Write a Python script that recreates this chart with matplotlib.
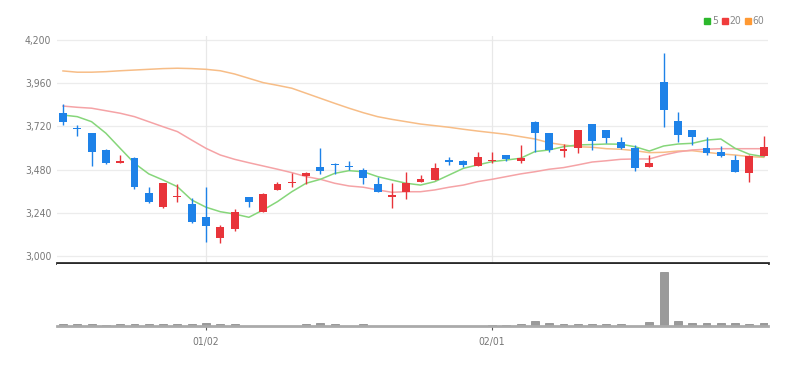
import numpy as np
import matplotlib
matplotlib.use("Agg")
import matplotlib.pyplot as plt
from matplotlib.lines import Line2D

plt.rcParams["font.family"] = ["Liberation Sans Narrow", "DejaVu Sans"]
plt.rcParams["font.stretch"] = "condensed"

# Daily candles (index 0 .. 49)
opens = [3793, 3713, 3682, 3589, 3517, 3543, 3348, 3270, 3326, 3287,
         3218, 3098, 3150, 3326, 3246, 3367, 3404, 3444, 3496, 3513,
         3500, 3478, 3398, 3330, 3354, 3411, 3422, 3533, 3526, 3500,
         3526, 3561, 3528, 3746, 3682, 3585, 3602, 3733, 3700, 3635,
         3598, 3496, 3968, 3750, 3700, 3598, 3576, 3533, 3459, 3556]
highs = [3844, 3728, 3685, 3592, 3561, 3550, 3385, 3404, 3400, 3320,
         3385, 3172, 3259, 3328, 3352, 3413, 3459, 3468, 3598, 3515,
         3530, 3487, 3441, 3404, 3468, 3450, 3519, 3548, 3533, 3580,
         3580, 3563, 3617, 3752, 3685, 3622, 3700, 3735, 3702, 3663,
         3617, 3561, 4130, 3802, 3702, 3659, 3611, 3561, 3561, 3667]
lows = [3728, 3667, 3500, 3511, 3515, 3374, 3295, 3268, 3298, 3181,
        3079, 3074, 3141, 3274, 3244, 3365, 3382, 3400, 3454, 3457,
        3476, 3400, 3355, 3265, 3317, 3409, 3420, 3506, 3497, 3498,
        3519, 3530, 3515, 3580, 3580, 3552, 3570, 3589, 3626, 3596,
        3474, 3494, 3715, 3635, 3617, 3561, 3548, 3466, 3413, 3554]
closes = [3746, 3704, 3579, 3515, 3526, 3385, 3298, 3404, 3332, 3191,
          3168, 3163, 3246, 3298, 3344, 3400, 3413, 3463, 3474, 3504,
          3493, 3432, 3357, 3339, 3404, 3426, 3487, 3522, 3506, 3548,
          3535, 3537, 3543, 3682, 3589, 3593, 3700, 3639, 3654, 3598,
          3487, 3515, 3811, 3672, 3663, 3570, 3557, 3468, 3556, 3607]

# Moving averages
ma5 = [3783, 3774, 3746, 3682, 3598, 3515, 3456, 3422, 3385, 3311,
       3271, 3246, 3233, 3215, 3256, 3302, 3357, 3404, 3426, 3459,
       3474, 3468, 3441, 3422, 3404, 3394, 3413, 3450, 3487, 3506,
       3524, 3533, 3543, 3580, 3589, 3607, 3617, 3619, 3622, 3621,
       3607, 3583, 3611, 3622, 3626, 3644, 3650, 3598, 3565, 3552]
ma20 = [3833, 3826, 3821, 3807, 3793, 3774, 3746, 3718, 3691, 3644,
        3598, 3561, 3537, 3518, 3500, 3482, 3463, 3441, 3426, 3404,
        3389, 3382, 3367, 3354, 3357, 3357, 3367, 3382, 3394, 3413,
        3426, 3441, 3456, 3468, 3482, 3491, 3506, 3522, 3529, 3537,
        3539, 3539, 3561, 3578, 3589, 3593, 3596, 3596, 3596, 3596]
ma60 = [4028, 4021, 4021, 4024, 4029, 4033, 4037, 4041, 4043, 4041,
        4037, 4029, 4011, 3987, 3963, 3948, 3932, 3904, 3876, 3848,
        3821, 3796, 3774, 3759, 3746, 3733, 3724, 3715, 3704, 3694,
        3685, 3676, 3663, 3650, 3629, 3617, 3607, 3604, 3596, 3593,
        3585, 3574, 3576, 3583, 3585, 3576, 3567, 3561, 3552, 3548]

# Volume (thousand shares, approx.)
volumes = [20, 20, 20, 5, 20, 20, 20, 20, 20, 20,
           30, 20, 20, 3, 3, 3, 3, 20, 30, 20,
           3, 20, 3, 3, 3, 3, 3, 3, 3, 3,
           10, 5, 20, 45, 25, 20, 20, 20, 20, 20,
           3, 35, 540, 45, 30, 30, 25, 25, 15, 25]

tick_pos = [10, 30]
tick_labels = ["01/02", "02/01"]
price_ticks = [3000, 3240, 3480, 3720, 3960, 4200]

up_color = "#e8343a"
down_color = "#1e82e8"

fig = plt.figure(figsize=(8.07, 3.66), dpi=100)
ax = fig.add_axes([0.0706, 0.2814, 0.8811, 0.6202])
axv = fig.add_axes([0.0706, 0.1093, 0.8811, 0.1694])

x = np.arange(len(opens))
o = np.array(opens)
c = np.array(closes)
h = np.array(highs)
l = np.array(lows)
colors = np.where(c >= o, up_color, down_color)

# Grid
for p in price_ticks:
    ax.axhline(p, color="#ececec", lw=0.9, zorder=0)
for t in tick_pos:
    ax.axvline(t, color="#e8e8e8", lw=0.9, zorder=0)

# Moving averages
ax.plot(x, ma60, color="#f7bd87", lw=1.1, zorder=1)
ax.plot(x, ma20, color="#f5a3a6", lw=1.1, zorder=1)
ax.plot(x, ma5, color="#86d67a", lw=1.1, zorder=1)

# Candles
ax.vlines(x, l, h, colors=colors, lw=1.0, zorder=2)
body_h = np.abs(c - o)
body_h = np.maximum(body_h, 5)
ax.bar(x, body_h, bottom=np.minimum(o, c), width=0.55, color=colors, zorder=3)

ax.set_xlim(-0.42, 49.3)
ax.set_ylim(2961, 4222)
ax.set_yticks(price_ticks)
ax.set_yticklabels([f"{p:,}" for p in price_ticks])
ax.tick_params(axis="y", length=0, labelsize=7.5, labelcolor="#777777", pad=4)
ax.set_xticks([])
for s in ["top", "right", "left"]:
    ax.spines[s].set_visible(False)
ax.spines["bottom"].set_color("#2a2a2a")
ax.spines["bottom"].set_linewidth(2)

# Legend
handles = [
    Line2D([], [], marker="s", ls="", color="#2cb82c", markersize=4.5),
    Line2D([], [], marker="s", ls="", color="#f03c3c", markersize=4.5),
    Line2D([], [], marker="s", ls="", color="#ff9933", markersize=4.5),
]
ax.legend(handles, ["5", "20", "60"], ncol=3, frameon=False, loc="lower right",
          bbox_to_anchor=(1.005, 1.01), fontsize=7.5, handletextpad=0.0,
          columnspacing=0.2, handlelength=0.9, borderpad=0.2,
          labelcolor="#888888")

# Volume
axv.bar(x, volumes, width=0.55, color="#9a9a9a", edgecolor="#858585", lw=0.5, zorder=2)
axv.set_xlim(-0.42, 49.3)
axv.set_ylim(0, max(volumes) * 62 / 54)
axv.set_yticks([])
axv.set_xticks(tick_pos)
axv.set_xticklabels(tick_labels)
axv.tick_params(axis="x", length=3, color="#555555", labelsize=7.5,
                labelcolor="#777777", pad=5)
for s in ["top", "right", "left"]:
    axv.spines[s].set_visible(False)
axv.spines["bottom"].set_color("#aaaaaa")
axv.spines["bottom"].set_linewidth(2)

fig.savefig("out.png", dpi=100, facecolor="white")
